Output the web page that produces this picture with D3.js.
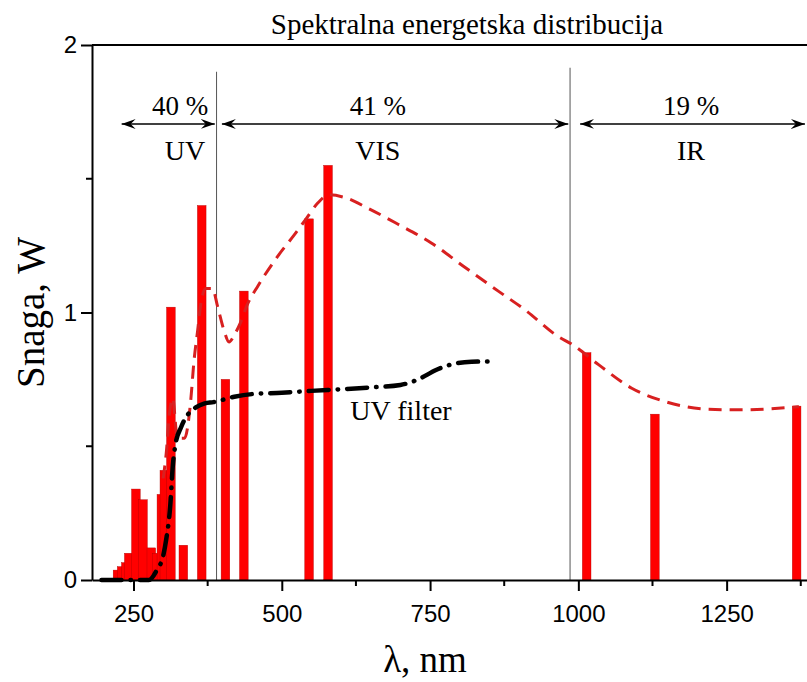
<!DOCTYPE html>
<meta charset="utf-8">
<style>
body { margin: 0; background: #fff; }
svg { font-family: 'Liberation Serif', 'Times New Roman', serif; }
.axis path, .axis line { stroke: #000; stroke-width: 2px; }
.axis text { font-size: 24px; fill: #000; }
.bars rect { fill: #ff0000; stroke: #b00000; stroke-width: 0.4px; }
.divider { stroke: #555; stroke-width: 1px; }
.lamp { fill: none; stroke: #d82020; stroke-width: 3px; stroke-dasharray: 13,8; }
.filter { fill: none; stroke: #000; stroke-width: 4.5px; stroke-linecap: round; stroke-dasharray: 20,9,0.5,9; }
.arrow { stroke: #000; stroke-width: 1.5px; }
</style>
<svg id="chart" width="807" height="682"></svg>
<script src="https://cdnjs.cloudflare.com/ajax/libs/d3/7.8.5/d3.min.js"></script>
<script>

// emission lines (nm) and their power (W)
const lineNm    = [223, 230, 237, 242, 254, 266, 280, 289, 297, 302, 313, 334, 365, 405, 436, 546, 578, 1014, 1129, 1368];
const linePower = [0.037, 0.05, 0.065, 0.10, 0.34, 0.30, 0.12, 0.10, 0.32, 0.41, 1.02, 0.13, 1.40, 0.75, 1.08, 1.35, 1.55, 0.85, 0.62, 0.65];

// red dashed envelope
const envNm  = [300, 305, 311, 316, 324, 336, 346, 352, 358, 364, 372, 383, 392, 403, 411, 421, 430, 442, 460, 493, 521, 541, 561, 580, 606, 645, 696, 752, 808, 865, 910, 966, 990, 1034, 1090, 1146, 1220, 1270, 1372];
const envPow = [0.38, 0.47, 0.63, 0.68, 0.53, 0.53, 0.66, 0.82, 0.93, 1.04, 1.09, 1.09, 1.02, 0.93, 0.89, 0.92, 0.96, 1.03, 1.10, 1.21, 1.29, 1.35, 1.41, 1.44, 1.43, 1.39, 1.33, 1.26, 1.17, 1.08, 1.01, 0.91, 0.88, 0.805, 0.717, 0.667, 0.638, 0.636, 0.648];

// black dash-dot "UV filter" curve
const uvNm  = [196, 276, 290, 300, 305, 312, 316, 321, 330, 342, 355, 370, 385, 420, 450, 500, 550, 600, 650, 700, 730, 760, 790, 820, 853];
const uvPow = [0, 0, 0.04, 0.09, 0.15, 0.28, 0.42, 0.51, 0.57, 0.62, 0.645, 0.66, 0.665, 0.685, 0.695, 0.70, 0.707, 0.713, 0.72, 0.729, 0.75, 0.785, 0.808, 0.816, 0.817];

// spectral regions
const regionNames = ["UV", "VIS", "IR"];
const regionPct   = ["40 %", "41 %", "19 %"];
const regionFrom  = [230, 399, 1003];
const regionTo    = [387, 983, 1382];
const regionText  = [376, 662, 1190];
const dividers    = [390, 986];

const xTicks = [250, 500, 750, 1000, 1250];
const xMinor = [375, 625, 875, 1125, 1375];
const yTicks = [0, 1, 2];
const yMinor = [0.5, 1.5];

const svg = d3.select("#chart");
const x = d3.scaleLinear().domain([180, 1400]).range([92, 815.6]);
const y = d3.scaleLinear().domain([0, 2]).range([580, 45]);
const barW = x(194.6) - x(180);

// title
svg.append("text")
    .attr("x", 467).attr("y", 34)
    .attr("text-anchor", "middle")
    .style("font-size", "29px")
    .text("Spektralna energetska distribucija");

// bars
svg.append("g").attr("class", "bars")
  .selectAll("rect")
  .data(lineNm.map((d, i) => [d, linePower[i]]))
  .enter().append("rect")
    .attr("x", d => x(d[0]) - barW / 2)
    .attr("width", barW)
    .attr("y", d => y(d[1]))
    .attr("height", d => y(0) - y(d[1]));

// region dividers
svg.append("g")
  .selectAll("line")
  .data(dividers)
  .enter().append("line")
    .attr("class", "divider")
    .attr("x1", d => x(d)).attr("x2", d => x(d))
    .attr("y1", (d, i) => i == 0 ? y(1.9) : y(1.915))
    .attr("y2", y(0));

// arrows
const defs = svg.append("defs");
defs.append("marker")
    .attr("id", "head")
    .attr("viewBox", "-14 -6 16 12")
    .attr("refX", 0).attr("refY", 0)
    .attr("markerWidth", 16).attr("markerHeight", 12)
    .attr("markerUnits", "userSpaceOnUse")
    .attr("orient", "auto-start-reverse")
  .append("path")
    .attr("d", "M0,0L-14,-5L-9,0L-14,5Z")
    .attr("fill", "#000");

const regions = regionNames.map((n, i) => ({ name: n, pct: regionPct[i], from: regionFrom[i], to: regionTo[i], at: regionText[i] }));
const reg = svg.append("g").selectAll("g").data(regions).enter().append("g");
reg.append("line")
    .attr("class", "arrow")
    .attr("x1", d => x(d.from)).attr("x2", d => x(d.to))
    .attr("y1", y(1.705)).attr("y2", y(1.705))
    .attr("marker-start", "url(#head)")
    .attr("marker-end", "url(#head)");
reg.append("text")
    .attr("x", d => x(d.at))
    .attr("y", y(1.738))
    .attr("text-anchor", (d, i) => i == 0 ? "end" : "middle")
    .style("font-size", "27px")
    .text(d => d.pct);
reg.append("text")
    .attr("x", (d, i) => x(d.at) - (i == 0 ? 3 : 0))
    .attr("y", y(1.57))
    .attr("text-anchor", (d, i) => i == 0 ? "end" : "middle")
    .style("font-size", "28px")
    .text(d => d.name);

// curves
const line = d3.line()
    .x(d => x(d[0]))
    .y(d => y(d[1]))
    .curve(d3.curveMonotoneX);

svg.append("path")
    .attr("class", "lamp")
    .attr("d", line(envNm.map((d, i) => [d, envPow[i]])));

svg.append("path")
    .attr("class", "filter")
    .attr("d", line(uvNm.map((d, i) => [d, uvPow[i]])));

svg.append("text")
    .attr("x", x(701)).attr("y", y(0.6))
    .attr("text-anchor", "middle")
    .style("font-size", "28px")
    .text("UV filter");

// axes
const xAxis = svg.append("g").attr("class", "axis")
    .attr("transform", "translate(0," + y(0) + ")")
    .call(d3.axisBottom(x).tickValues(xTicks).tickFormat(d3.format("d")).tickSize(11).tickPadding(8).tickSizeOuter(0));
xAxis.selectAll(".tick text").attr("dy", "0.95em");
xAxis.selectAll(null).data(xMinor).enter().append("line")
    .attr("x1", d => x(d)).attr("x2", d => x(d))
    .attr("y1", 0).attr("y2", 6)
    .attr("stroke", "#000").attr("stroke-width", 2);

const yAxis = svg.append("g").attr("class", "axis")
    .attr("transform", "translate(" + x(180) + ",0)")
    .call(d3.axisLeft(y).tickValues(yTicks).tickFormat(d3.format("d")).tickSize(11).tickPadding(4).tickSizeOuter(0));
yAxis.selectAll(null).data(yMinor).enter().append("line")
    .attr("x1", 0).attr("x2", -6)
    .attr("y1", d => y(d)).attr("y2", d => y(d))
    .attr("stroke", "#000").attr("stroke-width", 2);

// top frame
svg.append("line")
    .attr("x1", x(180)).attr("x2", x(1400))
    .attr("y1", y(2)).attr("y2", y(2))
    .attr("stroke", "#000").attr("stroke-width", 2);

// axis titles
svg.append("text")
    .attr("x", 425).attr("y", 672)
    .attr("text-anchor", "middle")
    .style("font-size", "37px")
    .text("λ, nm");

svg.append("text")
    .attr("transform", "translate(44," + y(1) + ") rotate(-90)")
    .attr("text-anchor", "middle")
    .style("font-size", "39px")
    .text("Snaga, W");

</script>
